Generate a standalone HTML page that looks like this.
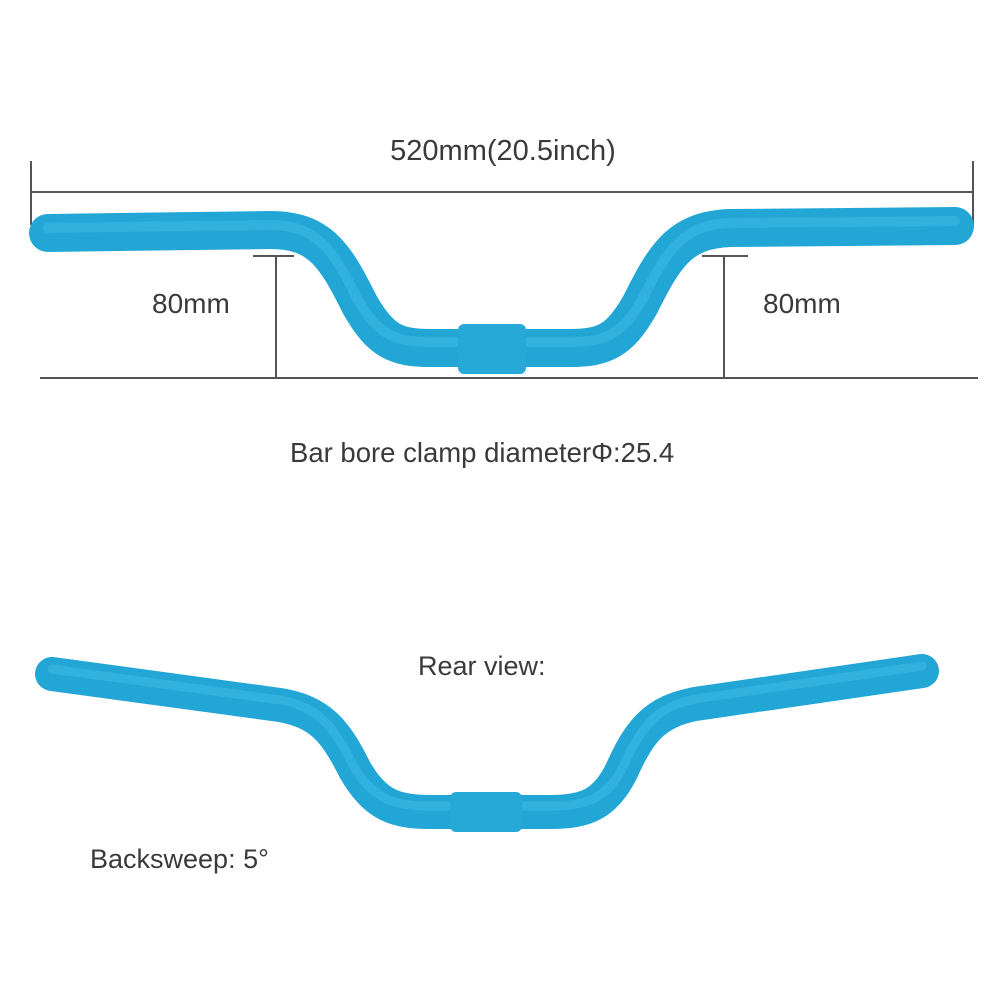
<!DOCTYPE html>
<html><head><style>
html,body{margin:0;padding:0;background:#fff;width:1000px;height:1000px;overflow:hidden}
</style></head><body>
<svg width="1000" height="1000" viewBox="0 0 1000 1000" xmlns="http://www.w3.org/2000/svg">
<g stroke="#555" stroke-width="2" fill="none">
<line x1="31" y1="161" x2="31" y2="225"/>
<line x1="973" y1="161" x2="973" y2="225"/>
<line x1="31" y1="192" x2="973" y2="192"/>
<line x1="40" y1="378" x2="978" y2="378"/>
<line x1="253" y1="256" x2="294" y2="256"/>
<line x1="276" y1="256" x2="276" y2="378"/>
<line x1="702" y1="256" x2="748" y2="256"/>
<line x1="724" y1="256" x2="724" y2="378"/>
</g>
<!-- top bar -->
<path d="M48 233 L270 230 C320 230 335 255 360 305 C380 340 395 348 430 348 L570 348 C605 348 620 340 640 305 C665 255 680 230 730 228 L955 226" stroke="#22a6d6" stroke-width="38" stroke-linecap="round" fill="none"/>
<path d="M48 228 L270 225 C318 225 333 250 358 300 C378 335 395 342 430 342 L570 342 C605 342 622 335 642 300 C667 250 682 225 730 223 L955 221" stroke="#40bde6" stroke-width="10" stroke-linecap="round" fill="none" opacity="0.5"/>
<rect x="458" y="324" width="68" height="50" rx="6" fill="#27a9d8"/>
<!-- rear bar -->
<path d="M52 674 L280 705 C320 712 335 730 355 770 C375 805 395 812 430 812 L550 812 C585 812 605 805 622 770 C640 730 655 712 695 704 L922 671" stroke="#22a6d6" stroke-width="34" stroke-linecap="round" fill="none"/>
<path d="M52 669 L280 700 C318 707 333 725 353 765 C373 800 395 806 430 806 L550 806 C585 806 607 800 624 765 C642 725 657 707 695 699 L922 666" stroke="#40bde6" stroke-width="9" stroke-linecap="round" fill="none" opacity="0.5"/>
<rect x="450" y="792" width="72" height="40" rx="6" fill="#27a9d8"/>
<g font-family="Liberation Sans, sans-serif" fill="#3a3a3a">
<text x="503" y="160" font-size="29" text-anchor="middle">520mm(20.5inch)</text>
<text x="152" y="313" font-size="28">80mm</text>
<text x="763" y="313" font-size="28">80mm</text>
<text x="290" y="462" font-size="27.5">Bar bore clamp diameterΦ:25.4</text>
<text x="418" y="675" font-size="27">Rear view:</text>
<text x="90" y="868" font-size="27">Backsweep: 5°</text>
</g>
</svg>
</body></html>
